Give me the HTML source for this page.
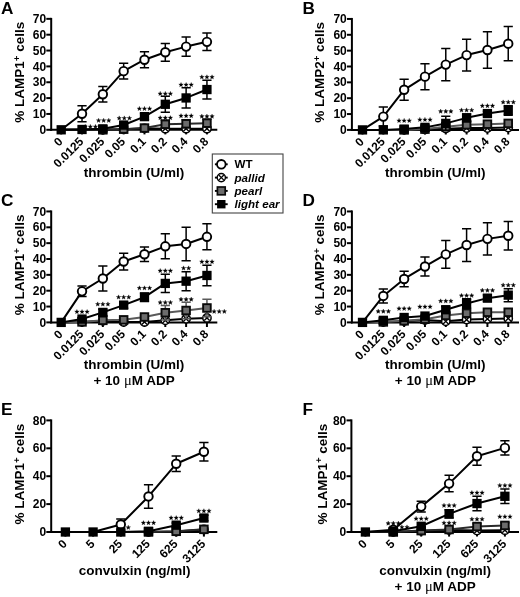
<!DOCTYPE html>
<html>
<head>
<meta charset="utf-8">
<title>Figure</title>
<style>
html,body{margin:0;padding:0;background:#fff;}
body{width:520px;height:597px;overflow:hidden;font-family:"Liberation Sans", sans-serif;}
svg{display:block;font-family:"Liberation Sans", sans-serif;filter:blur(0.4px);}
svg text{fill:#000;}
</style>
</head>
<body>
<svg width="520" height="597" viewBox="0 0 520 597">
<rect width="520" height="597" fill="#fff"/>
<g>
<path d="M51.2 17.85V130.8" stroke="#000" stroke-width="2.0"/>
<path d="M50.2 129.8H217.3" stroke="#000" stroke-width="2.0"/>
<path d="M46.3 129.8H51.2" stroke="#000" stroke-width="2.0"/>
<text x="46.1" y="133.9" font-size="12" font-weight="bold" text-anchor="end">0</text>
<path d="M46.3 113.95H51.2" stroke="#000" stroke-width="2.0"/>
<text x="46.1" y="118.05" font-size="12" font-weight="bold" text-anchor="end">10</text>
<path d="M46.3 98.1H51.2" stroke="#000" stroke-width="2.0"/>
<text x="46.1" y="102.2" font-size="12" font-weight="bold" text-anchor="end">20</text>
<path d="M46.3 82.25H51.2" stroke="#000" stroke-width="2.0"/>
<text x="46.1" y="86.35" font-size="12" font-weight="bold" text-anchor="end">30</text>
<path d="M46.3 66.4H51.2" stroke="#000" stroke-width="2.0"/>
<text x="46.1" y="70.5" font-size="12" font-weight="bold" text-anchor="end">40</text>
<path d="M46.3 50.55H51.2" stroke="#000" stroke-width="2.0"/>
<text x="46.1" y="54.65" font-size="12" font-weight="bold" text-anchor="end">50</text>
<path d="M46.3 34.7H51.2" stroke="#000" stroke-width="2.0"/>
<text x="46.1" y="38.8" font-size="12" font-weight="bold" text-anchor="end">60</text>
<path d="M46.3 18.85H51.2" stroke="#000" stroke-width="2.0"/>
<text x="46.1" y="22.95" font-size="12" font-weight="bold" text-anchor="end">70</text>
<path d="M61.2 129.8V134.4" stroke="#000" stroke-width="2.0"/>
<text transform="translate(63.5 142.3) rotate(-45)" font-size="12" font-weight="bold" text-anchor="end">0</text>
<path d="M82.02 129.8V134.4" stroke="#000" stroke-width="2.0"/>
<text transform="translate(84.32 142.3) rotate(-45)" font-size="12" font-weight="bold" text-anchor="end">0.0125</text>
<path d="M102.84 129.8V134.4" stroke="#000" stroke-width="2.0"/>
<text transform="translate(105.14 142.3) rotate(-45)" font-size="12" font-weight="bold" text-anchor="end">0.025</text>
<path d="M123.66 129.8V134.4" stroke="#000" stroke-width="2.0"/>
<text transform="translate(125.96 142.3) rotate(-45)" font-size="12" font-weight="bold" text-anchor="end">0.05</text>
<path d="M144.48 129.8V134.4" stroke="#000" stroke-width="2.0"/>
<text transform="translate(146.78 142.3) rotate(-45)" font-size="12" font-weight="bold" text-anchor="end">0.1</text>
<path d="M165.3 129.8V134.4" stroke="#000" stroke-width="2.0"/>
<text transform="translate(167.6 142.3) rotate(-45)" font-size="12" font-weight="bold" text-anchor="end">0.2</text>
<path d="M186.12 129.8V134.4" stroke="#000" stroke-width="2.0"/>
<text transform="translate(188.42 142.3) rotate(-45)" font-size="12" font-weight="bold" text-anchor="end">0.4</text>
<path d="M206.94 129.8V134.4" stroke="#000" stroke-width="2.0"/>
<text transform="translate(209.24 142.3) rotate(-45)" font-size="12" font-weight="bold" text-anchor="end">0.8</text>
<text transform="translate(24.2 72.23) rotate(-90)" font-size="13.5" font-weight="bold" text-anchor="middle">% LAMP1<tspan dy="-4.5" font-size="9.5">+</tspan><tspan dy="4.5"> cells</tspan></text>
<text x="134.07" y="176.5" font-size="13.5" font-weight="bold" text-anchor="middle">thrombin (U/ml)</text>
</g>
<g>
<text x="1" y="13.7" font-size="17.2" font-weight="bold">A</text>
<path d="M82.02 105.87V121.72M77.42 105.87H86.62M77.42 121.72H86.62" stroke="#000" stroke-width="1.5" fill="none"/>
<path d="M102.84 86.53V102.06M98.24 86.53H107.44M98.24 102.06H107.44" stroke="#000" stroke-width="1.5" fill="none"/>
<path d="M123.66 63.23V79.08M119.06 63.23H128.26M119.06 79.08H128.26" stroke="#000" stroke-width="1.5" fill="none"/>
<path d="M144.48 51.66V67.83M139.88 51.66H149.08M139.88 67.83H149.08" stroke="#000" stroke-width="1.5" fill="none"/>
<path d="M165.3 43.42V61.17M160.7 43.42H169.9M160.7 61.17H169.9" stroke="#000" stroke-width="1.5" fill="none"/>
<path d="M186.12 36.92V56.26M181.52 36.92H190.72M181.52 56.26H190.72" stroke="#000" stroke-width="1.5" fill="none"/>
<path d="M206.94 33.12V50.55M202.34 33.12H211.54M202.34 50.55H211.54" stroke="#000" stroke-width="1.5" fill="none"/>
<polyline points="61.2,129.8 82.02,113.79 102.84,94.3 123.66,71.16 144.48,59.74 165.3,52.29 186.12,46.59 206.94,41.83" fill="none" stroke="#000" stroke-width="2.0" stroke-linejoin="round"/>
<circle cx="82.02" cy="113.79" r="4.25" fill="#fff" stroke="#000" stroke-width="1.9"/>
<circle cx="102.84" cy="94.3" r="4.25" fill="#fff" stroke="#000" stroke-width="1.9"/>
<circle cx="123.66" cy="71.16" r="4.25" fill="#fff" stroke="#000" stroke-width="1.9"/>
<circle cx="144.48" cy="59.74" r="4.25" fill="#fff" stroke="#000" stroke-width="1.9"/>
<circle cx="165.3" cy="52.29" r="4.25" fill="#fff" stroke="#000" stroke-width="1.9"/>
<circle cx="186.12" cy="46.59" r="4.25" fill="#fff" stroke="#000" stroke-width="1.9"/>
<circle cx="206.94" cy="41.83" r="4.25" fill="#fff" stroke="#000" stroke-width="1.9"/>
<polyline points="61.2,129.8 82.02,129.8 102.84,129.8 123.66,129.17 144.48,128.37 165.3,128.69 186.12,128.69 206.94,128.69" fill="none" stroke="#000" stroke-width="2.0" stroke-linejoin="round"/>
<circle cx="102.84" cy="129.8" r="4.15" fill="#fff" stroke="#000" stroke-width="1.5"/>
<path d="M100.18 127.14L105.5 132.46M100.18 132.46L105.5 127.14" stroke="#000" stroke-width="1.4"/>
<circle cx="123.66" cy="129.17" r="4.15" fill="#fff" stroke="#000" stroke-width="1.5"/>
<path d="M121 126.51L126.32 131.82M121 131.82L126.32 126.51" stroke="#000" stroke-width="1.4"/>
<circle cx="144.48" cy="128.37" r="4.15" fill="#fff" stroke="#000" stroke-width="1.5"/>
<path d="M141.82 125.72L147.14 131.03M141.82 131.03L147.14 125.72" stroke="#000" stroke-width="1.4"/>
<circle cx="165.3" cy="128.69" r="4.15" fill="#fff" stroke="#000" stroke-width="1.5"/>
<path d="M162.64 126.03L167.96 131.35M162.64 131.35L167.96 126.03" stroke="#000" stroke-width="1.4"/>
<circle cx="186.12" cy="128.69" r="4.15" fill="#fff" stroke="#000" stroke-width="1.5"/>
<path d="M183.46 126.03L188.78 131.35M183.46 131.35L188.78 126.03" stroke="#000" stroke-width="1.4"/>
<circle cx="206.94" cy="128.69" r="4.15" fill="#fff" stroke="#000" stroke-width="1.5"/>
<path d="M204.28 126.03L209.6 131.35M204.28 131.35L209.6 126.03" stroke="#000" stroke-width="1.4"/>
<path d="M165.3 120.29V128.22M160.7 120.29H169.9M160.7 128.22H169.9" stroke="#2a2a2a" stroke-width="1.5" fill="none"/>
<path d="M186.12 119.81V127.74M181.52 119.81H190.72M181.52 127.74H190.72" stroke="#2a2a2a" stroke-width="1.5" fill="none"/>
<path d="M206.94 119.18V127.11M202.34 119.18H211.54M202.34 127.11H211.54" stroke="#2a2a2a" stroke-width="1.5" fill="none"/>
<polyline points="61.2,129.8 82.02,129.8 102.84,129.8 123.66,129.17 144.48,128.06 165.3,124.25 186.12,123.78 206.94,123.14" fill="none" stroke="#2a2a2a" stroke-width="2.0" stroke-linejoin="round"/>
<rect x="99.04" y="126" width="7.6" height="7.6" fill="#6c6c6c" stroke="#0a0a0a" stroke-width="1.9"/>
<rect x="119.86" y="125.37" width="7.6" height="7.6" fill="#6c6c6c" stroke="#0a0a0a" stroke-width="1.9"/>
<rect x="140.68" y="124.26" width="7.6" height="7.6" fill="#6c6c6c" stroke="#0a0a0a" stroke-width="1.9"/>
<rect x="161.5" y="120.45" width="7.6" height="7.6" fill="#6c6c6c" stroke="#0a0a0a" stroke-width="1.9"/>
<rect x="182.32" y="119.98" width="7.6" height="7.6" fill="#6c6c6c" stroke="#0a0a0a" stroke-width="1.9"/>
<rect x="203.14" y="119.34" width="7.6" height="7.6" fill="#6c6c6c" stroke="#0a0a0a" stroke-width="1.9"/>
<path d="M123.66 123.46V126.63M119.06 123.46H128.26M119.06 126.63H128.26" stroke="#000" stroke-width="1.5" fill="none"/>
<path d="M144.48 113.47V119.81M139.88 113.47H149.08M139.88 119.81H149.08" stroke="#000" stroke-width="1.5" fill="none"/>
<path d="M165.3 96.2V112.37M160.7 96.2H169.9M160.7 112.37H169.9" stroke="#000" stroke-width="1.5" fill="none"/>
<path d="M186.12 87.8V108.09M181.52 87.8H190.72M181.52 108.09H190.72" stroke="#000" stroke-width="1.5" fill="none"/>
<path d="M206.94 80.19V98.89M202.34 80.19H211.54M202.34 98.89H211.54" stroke="#000" stroke-width="1.5" fill="none"/>
<polyline points="61.2,129.8 82.02,129.48 102.84,128.85 123.66,125.05 144.48,116.64 165.3,104.28 186.12,97.94 206.94,89.54" fill="none" stroke="#000" stroke-width="2.0" stroke-linejoin="round"/>
<rect x="56.55" y="125.15" width="9.3" height="9.3" fill="#000"/>
<rect x="77.37" y="124.83" width="9.3" height="9.3" fill="#000"/>
<rect x="98.19" y="124.2" width="9.3" height="9.3" fill="#000"/>
<rect x="119.01" y="120.4" width="9.3" height="9.3" fill="#000"/>
<rect x="139.83" y="111.99" width="9.3" height="9.3" fill="#000"/>
<rect x="160.65" y="99.63" width="9.3" height="9.3" fill="#000"/>
<rect x="181.47" y="93.29" width="9.3" height="9.3" fill="#000"/>
<rect x="202.29" y="84.89" width="9.3" height="9.3" fill="#000"/>
<path d="M85.25 124.37L85.84 125.91L87.48 126L86.2 127.03L86.63 128.62L85.25 127.72L83.87 128.62L84.3 127.03L83.01 126L84.66 125.91ZM90.35 124.37L90.94 125.91L92.58 126L91.3 127.03L91.73 128.62L90.35 127.72L88.97 128.62L89.4 127.03L88.11 126L89.76 125.91ZM95.45 124.37L96.04 125.91L97.68 126L96.4 127.03L96.83 128.62L95.45 127.72L94.07 128.62L94.5 127.03L93.21 126L94.86 125.91Z" fill="#000" stroke="#000" stroke-width="0.3" stroke-linejoin="round"/>
<path d="M98.57 118.17L99.16 119.71L100.81 119.8L99.52 120.83L99.95 122.42L98.57 121.52L97.19 122.42L97.62 120.83L96.34 119.8L97.99 119.71ZM103.67 118.17L104.26 119.71L105.91 119.8L104.62 120.83L105.05 122.42L103.67 121.52L102.29 122.42L102.72 120.83L101.44 119.8L103.09 119.71ZM108.77 118.17L109.36 119.71L111.01 119.8L109.72 120.83L110.15 122.42L108.77 121.52L107.39 122.42L107.82 120.83L106.54 119.8L108.19 119.71Z" fill="#000" stroke="#000" stroke-width="0.3" stroke-linejoin="round"/>
<path d="M119.18 115.87L119.77 117.41L121.42 117.5L120.14 118.53L120.57 120.12L119.18 119.22L117.8 120.12L118.23 118.53L116.95 117.5L118.6 117.41ZM124.28 115.87L124.87 117.41L126.52 117.5L125.24 118.53L125.67 120.12L124.28 119.22L122.9 120.12L123.33 118.53L122.05 117.5L123.7 117.41ZM129.38 115.87L129.97 117.41L131.62 117.5L130.34 118.53L130.77 120.12L129.38 119.22L128 120.12L128.43 118.53L127.15 117.5L128.8 117.41Z" fill="#000" stroke="#000" stroke-width="0.3" stroke-linejoin="round"/>
<path d="M139.38 106.37L139.97 107.91L141.61 108L140.33 109.03L140.76 110.62L139.38 109.72L138 110.62L138.43 109.03L137.15 108L138.79 107.91ZM144.48 106.37L145.07 107.91L146.71 108L145.43 109.03L145.86 110.62L144.48 109.72L143.1 110.62L143.53 109.03L142.25 108L143.89 107.91ZM149.58 106.37L150.17 107.91L151.81 108L150.53 109.03L150.96 110.62L149.58 109.72L148.2 110.62L148.63 109.03L147.35 108L148.99 107.91Z" fill="#000" stroke="#000" stroke-width="0.3" stroke-linejoin="round"/>
<path d="M160.2 91.37L160.79 92.91L162.43 93L161.15 94.03L161.58 95.62L160.2 94.72L158.82 95.62L159.25 94.03L157.97 93L159.61 92.91ZM165.3 91.37L165.89 92.91L167.53 93L166.25 94.03L166.68 95.62L165.3 94.72L163.92 95.62L164.35 94.03L163.07 93L164.71 92.91ZM170.4 91.37L170.99 92.91L172.63 93L171.35 94.03L171.78 95.62L170.4 94.72L169.02 95.62L169.45 94.03L168.17 93L169.81 92.91Z" fill="#000" stroke="#000" stroke-width="0.3" stroke-linejoin="round"/>
<path d="M181.02 82.47L181.61 84.01L183.25 84.1L181.97 85.13L182.4 86.72L181.02 85.82L179.64 86.72L180.07 85.13L178.79 84.1L180.43 84.01ZM186.12 82.47L186.71 84.01L188.35 84.1L187.07 85.13L187.5 86.72L186.12 85.82L184.74 86.72L185.17 85.13L183.89 84.1L185.53 84.01ZM191.22 82.47L191.81 84.01L193.45 84.1L192.17 85.13L192.6 86.72L191.22 85.82L189.84 86.72L190.27 85.13L188.99 84.1L190.63 84.01Z" fill="#000" stroke="#000" stroke-width="0.3" stroke-linejoin="round"/>
<path d="M201.84 74.77L202.43 76.31L204.07 76.4L202.79 77.43L203.22 79.02L201.84 78.12L200.46 79.02L200.89 77.43L199.61 76.4L201.25 76.31ZM206.94 74.77L207.53 76.31L209.17 76.4L207.89 77.43L208.32 79.02L206.94 78.12L205.56 79.02L205.99 77.43L204.71 76.4L206.35 76.31ZM212.04 74.77L212.63 76.31L214.27 76.4L212.99 77.43L213.42 79.02L212.04 78.12L210.66 79.02L211.09 77.43L209.81 76.4L211.45 76.31Z" fill="#000" stroke="#000" stroke-width="0.3" stroke-linejoin="round"/>
<path d="M160.2 115.57L160.79 117.11L162.43 117.2L161.15 118.23L161.58 119.82L160.2 118.92L158.82 119.82L159.25 118.23L157.97 117.2L159.61 117.11ZM165.3 115.57L165.89 117.11L167.53 117.2L166.25 118.23L166.68 119.82L165.3 118.92L163.92 119.82L164.35 118.23L163.07 117.2L164.71 117.11ZM170.4 115.57L170.99 117.11L172.63 117.2L171.35 118.23L171.78 119.82L170.4 118.92L169.02 119.82L169.45 118.23L168.17 117.2L169.81 117.11Z" fill="#000" stroke="#000" stroke-width="0.3" stroke-linejoin="round"/>
<path d="M181.02 113.57L181.61 115.11L183.25 115.2L181.97 116.23L182.4 117.82L181.02 116.92L179.64 117.82L180.07 116.23L178.79 115.2L180.43 115.11ZM186.12 113.57L186.71 115.11L188.35 115.2L187.07 116.23L187.5 117.82L186.12 116.92L184.74 117.82L185.17 116.23L183.89 115.2L185.53 115.11ZM191.22 113.57L191.81 115.11L193.45 115.2L192.17 116.23L192.6 117.82L191.22 116.92L189.84 117.82L190.27 116.23L188.99 115.2L190.63 115.11Z" fill="#000" stroke="#000" stroke-width="0.3" stroke-linejoin="round"/>
<path d="M201.84 114.07L202.43 115.61L204.07 115.7L202.79 116.73L203.22 118.32L201.84 117.42L200.46 118.32L200.89 116.73L199.61 115.7L201.25 115.61ZM206.94 114.07L207.53 115.61L209.17 115.7L207.89 116.73L208.32 118.32L206.94 117.42L205.56 118.32L205.99 116.73L204.71 115.7L206.35 115.61ZM212.04 114.07L212.63 115.61L214.27 115.7L212.99 116.73L213.42 118.32L212.04 117.42L210.66 118.32L211.09 116.73L209.81 115.7L211.45 115.61Z" fill="#000" stroke="#000" stroke-width="0.3" stroke-linejoin="round"/>
</g>
<g>
<path d="M351.9 17.95V130.9" stroke="#000" stroke-width="2.0"/>
<path d="M350.9 129.9H519" stroke="#000" stroke-width="2.0"/>
<path d="M347 129.9H351.9" stroke="#000" stroke-width="2.0"/>
<text x="346.8" y="134" font-size="12" font-weight="bold" text-anchor="end">0</text>
<path d="M347 114.05H351.9" stroke="#000" stroke-width="2.0"/>
<text x="346.8" y="118.15" font-size="12" font-weight="bold" text-anchor="end">10</text>
<path d="M347 98.2H351.9" stroke="#000" stroke-width="2.0"/>
<text x="346.8" y="102.3" font-size="12" font-weight="bold" text-anchor="end">20</text>
<path d="M347 82.35H351.9" stroke="#000" stroke-width="2.0"/>
<text x="346.8" y="86.45" font-size="12" font-weight="bold" text-anchor="end">30</text>
<path d="M347 66.5H351.9" stroke="#000" stroke-width="2.0"/>
<text x="346.8" y="70.6" font-size="12" font-weight="bold" text-anchor="end">40</text>
<path d="M347 50.65H351.9" stroke="#000" stroke-width="2.0"/>
<text x="346.8" y="54.75" font-size="12" font-weight="bold" text-anchor="end">50</text>
<path d="M347 34.8H351.9" stroke="#000" stroke-width="2.0"/>
<text x="346.8" y="38.9" font-size="12" font-weight="bold" text-anchor="end">60</text>
<path d="M347 18.95H351.9" stroke="#000" stroke-width="2.0"/>
<text x="346.8" y="23.05" font-size="12" font-weight="bold" text-anchor="end">70</text>
<path d="M362.5 129.9V134.5" stroke="#000" stroke-width="2.0"/>
<text transform="translate(364.8 142.4) rotate(-45)" font-size="12" font-weight="bold" text-anchor="end">0</text>
<path d="M383.32 129.9V134.5" stroke="#000" stroke-width="2.0"/>
<text transform="translate(385.62 142.4) rotate(-45)" font-size="12" font-weight="bold" text-anchor="end">0.0125</text>
<path d="M404.14 129.9V134.5" stroke="#000" stroke-width="2.0"/>
<text transform="translate(406.44 142.4) rotate(-45)" font-size="12" font-weight="bold" text-anchor="end">0.025</text>
<path d="M424.96 129.9V134.5" stroke="#000" stroke-width="2.0"/>
<text transform="translate(427.26 142.4) rotate(-45)" font-size="12" font-weight="bold" text-anchor="end">0.05</text>
<path d="M445.78 129.9V134.5" stroke="#000" stroke-width="2.0"/>
<text transform="translate(448.08 142.4) rotate(-45)" font-size="12" font-weight="bold" text-anchor="end">0.1</text>
<path d="M466.6 129.9V134.5" stroke="#000" stroke-width="2.0"/>
<text transform="translate(468.9 142.4) rotate(-45)" font-size="12" font-weight="bold" text-anchor="end">0.2</text>
<path d="M487.42 129.9V134.5" stroke="#000" stroke-width="2.0"/>
<text transform="translate(489.72 142.4) rotate(-45)" font-size="12" font-weight="bold" text-anchor="end">0.4</text>
<path d="M508.24 129.9V134.5" stroke="#000" stroke-width="2.0"/>
<text transform="translate(510.54 142.4) rotate(-45)" font-size="12" font-weight="bold" text-anchor="end">0.8</text>
<text transform="translate(324.4 72.33) rotate(-90)" font-size="13.5" font-weight="bold" text-anchor="middle">% LAMP2<tspan dy="-4.5" font-size="9.5">+</tspan><tspan dy="4.5"> cells</tspan></text>
<text x="435.37" y="176.5" font-size="13.5" font-weight="bold" text-anchor="middle">thrombin (U/ml)</text>
</g>
<g>
<text x="302.5" y="13.7" font-size="17.2" font-weight="bold">B</text>
<path d="M383.32 107.08V126.1M378.72 107.08H387.92M378.72 126.1H387.92" stroke="#000" stroke-width="1.5" fill="none"/>
<path d="M404.14 79.34V100.26M399.54 79.34H408.74M399.54 100.26H408.74" stroke="#000" stroke-width="1.5" fill="none"/>
<path d="M424.96 63.65V89.64M420.36 63.65H429.56M420.36 89.64H429.56" stroke="#000" stroke-width="1.5" fill="none"/>
<path d="M445.78 48.43V80.77M441.18 48.43H450.38M441.18 80.77H450.38" stroke="#000" stroke-width="1.5" fill="none"/>
<path d="M466.6 39.24V70.94M462 39.24H471.2M462 70.94H471.2" stroke="#000" stroke-width="1.5" fill="none"/>
<path d="M487.42 31.79V68.24M482.82 31.79H492.02M482.82 68.24H492.02" stroke="#000" stroke-width="1.5" fill="none"/>
<path d="M508.24 26.56V60.79M503.64 26.56H512.84M503.64 60.79H512.84" stroke="#000" stroke-width="1.5" fill="none"/>
<polyline points="362.5,129.9 383.32,116.59 404.14,89.8 424.96,76.64 445.78,64.6 466.6,55.09 487.42,50.02 508.24,43.68" fill="none" stroke="#000" stroke-width="2.0" stroke-linejoin="round"/>
<circle cx="383.32" cy="116.59" r="4.25" fill="#fff" stroke="#000" stroke-width="1.9"/>
<circle cx="404.14" cy="89.8" r="4.25" fill="#fff" stroke="#000" stroke-width="1.9"/>
<circle cx="424.96" cy="76.64" r="4.25" fill="#fff" stroke="#000" stroke-width="1.9"/>
<circle cx="445.78" cy="64.6" r="4.25" fill="#fff" stroke="#000" stroke-width="1.9"/>
<circle cx="466.6" cy="55.09" r="4.25" fill="#fff" stroke="#000" stroke-width="1.9"/>
<circle cx="487.42" cy="50.02" r="4.25" fill="#fff" stroke="#000" stroke-width="1.9"/>
<circle cx="508.24" cy="43.68" r="4.25" fill="#fff" stroke="#000" stroke-width="1.9"/>
<polyline points="362.5,129.9 383.32,129.9 404.14,129.9 424.96,129.42 445.78,128.63 466.6,128 487.42,128 508.24,127.52" fill="none" stroke="#000" stroke-width="2.0" stroke-linejoin="round"/>
<circle cx="404.14" cy="129.9" r="4.15" fill="#fff" stroke="#000" stroke-width="1.5"/>
<path d="M401.48 127.24L406.8 132.56M401.48 132.56L406.8 127.24" stroke="#000" stroke-width="1.4"/>
<circle cx="424.96" cy="129.42" r="4.15" fill="#fff" stroke="#000" stroke-width="1.5"/>
<path d="M422.3 126.77L427.62 132.08M422.3 132.08L427.62 126.77" stroke="#000" stroke-width="1.4"/>
<circle cx="445.78" cy="128.63" r="4.15" fill="#fff" stroke="#000" stroke-width="1.5"/>
<path d="M443.12 125.98L448.44 131.29M443.12 131.29L448.44 125.98" stroke="#000" stroke-width="1.4"/>
<circle cx="466.6" cy="128" r="4.15" fill="#fff" stroke="#000" stroke-width="1.5"/>
<path d="M463.94 125.34L469.26 130.65M463.94 130.65L469.26 125.34" stroke="#000" stroke-width="1.4"/>
<circle cx="487.42" cy="128" r="4.15" fill="#fff" stroke="#000" stroke-width="1.5"/>
<path d="M484.76 125.34L490.08 130.65M484.76 130.65L490.08 125.34" stroke="#000" stroke-width="1.4"/>
<circle cx="508.24" cy="127.52" r="4.15" fill="#fff" stroke="#000" stroke-width="1.5"/>
<path d="M505.58 124.87L510.9 130.18M505.58 130.18L510.9 124.87" stroke="#000" stroke-width="1.4"/>
<polyline points="362.5,129.9 383.32,129.9 404.14,129.9 424.96,129.11 445.78,126.73 466.6,124.83 487.42,124.19 508.24,123.4" fill="none" stroke="#5a5a5a" stroke-width="2.0" stroke-linejoin="round"/>
<rect x="400.34" y="126.1" width="7.6" height="7.6" fill="#6c6c6c" stroke="#0a0a0a" stroke-width="1.9"/>
<rect x="421.16" y="125.31" width="7.6" height="7.6" fill="#6c6c6c" stroke="#0a0a0a" stroke-width="1.9"/>
<rect x="441.98" y="122.93" width="7.6" height="7.6" fill="#6c6c6c" stroke="#0a0a0a" stroke-width="1.9"/>
<rect x="462.8" y="121.03" width="7.6" height="7.6" fill="#6c6c6c" stroke="#0a0a0a" stroke-width="1.9"/>
<rect x="483.62" y="120.39" width="7.6" height="7.6" fill="#6c6c6c" stroke="#0a0a0a" stroke-width="1.9"/>
<rect x="504.44" y="119.6" width="7.6" height="7.6" fill="#6c6c6c" stroke="#0a0a0a" stroke-width="1.9"/>
<path d="M445.78 116.27V130.53M441.18 116.27H450.38M441.18 130.53H450.38" stroke="#000" stroke-width="1.5" fill="none"/>
<path d="M466.6 113.89V121.82M462 113.89H471.2M462 121.82H471.2" stroke="#000" stroke-width="1.5" fill="none"/>
<path d="M487.42 111.2V115.95M482.82 111.2H492.02M482.82 115.95H492.02" stroke="#000" stroke-width="1.5" fill="none"/>
<path d="M508.24 105.65V115.16M503.64 105.65H512.84M503.64 115.16H512.84" stroke="#000" stroke-width="1.5" fill="none"/>
<polyline points="362.5,129.9 383.32,129.9 404.14,129.11 424.96,127.36 445.78,123.4 466.6,117.85 487.42,113.57 508.24,110.4" fill="none" stroke="#000" stroke-width="2.0" stroke-linejoin="round"/>
<rect x="357.85" y="125.25" width="9.3" height="9.3" fill="#000"/>
<rect x="378.67" y="125.25" width="9.3" height="9.3" fill="#000"/>
<rect x="399.49" y="124.46" width="9.3" height="9.3" fill="#000"/>
<rect x="420.31" y="122.71" width="9.3" height="9.3" fill="#000"/>
<rect x="441.13" y="118.75" width="9.3" height="9.3" fill="#000"/>
<rect x="461.95" y="113.2" width="9.3" height="9.3" fill="#000"/>
<rect x="482.77" y="108.92" width="9.3" height="9.3" fill="#000"/>
<rect x="503.59" y="105.75" width="9.3" height="9.3" fill="#000"/>
<path d="M399.04 118.37L399.63 119.91L401.27 120L399.99 121.03L400.42 122.62L399.04 121.72L397.66 122.62L398.09 121.03L396.81 120L398.45 119.91ZM404.14 118.37L404.73 119.91L406.37 120L405.09 121.03L405.52 122.62L404.14 121.72L402.76 122.62L403.19 121.03L401.91 120L403.55 119.91ZM409.24 118.37L409.83 119.91L411.47 120L410.19 121.03L410.62 122.62L409.24 121.72L407.86 122.62L408.29 121.03L407.01 120L408.65 119.91Z" fill="#000" stroke="#000" stroke-width="0.3" stroke-linejoin="round"/>
<path d="M419.86 117.37L420.45 118.91L422.09 119L420.81 120.03L421.24 121.62L419.86 120.72L418.48 121.62L418.91 120.03L417.63 119L419.27 118.91ZM424.96 117.37L425.55 118.91L427.19 119L425.91 120.03L426.34 121.62L424.96 120.72L423.58 121.62L424.01 120.03L422.73 119L424.37 118.91ZM430.06 117.37L430.65 118.91L432.29 119L431.01 120.03L431.44 121.62L430.06 120.72L428.68 121.62L429.11 120.03L427.83 119L429.47 118.91Z" fill="#000" stroke="#000" stroke-width="0.3" stroke-linejoin="round"/>
<path d="M440.68 109.07L441.27 110.61L442.91 110.7L441.63 111.73L442.06 113.32L440.68 112.42L439.3 113.32L439.73 111.73L438.45 110.7L440.09 110.61ZM445.78 109.07L446.37 110.61L448.01 110.7L446.73 111.73L447.16 113.32L445.78 112.42L444.4 113.32L444.83 111.73L443.55 110.7L445.19 110.61ZM450.88 109.07L451.47 110.61L453.11 110.7L451.83 111.73L452.26 113.32L450.88 112.42L449.5 113.32L449.93 111.73L448.65 110.7L450.29 110.61Z" fill="#000" stroke="#000" stroke-width="0.3" stroke-linejoin="round"/>
<path d="M461.5 107.87L462.09 109.41L463.73 109.5L462.45 110.53L462.88 112.12L461.5 111.22L460.12 112.12L460.55 110.53L459.27 109.5L460.91 109.41ZM466.6 107.87L467.19 109.41L468.83 109.5L467.55 110.53L467.98 112.12L466.6 111.22L465.22 112.12L465.65 110.53L464.37 109.5L466.01 109.41ZM471.7 107.87L472.29 109.41L473.93 109.5L472.65 110.53L473.08 112.12L471.7 111.22L470.32 112.12L470.75 110.53L469.47 109.5L471.11 109.41Z" fill="#000" stroke="#000" stroke-width="0.3" stroke-linejoin="round"/>
<path d="M482.32 103.57L482.91 105.11L484.55 105.2L483.27 106.23L483.7 107.82L482.32 106.92L480.94 107.82L481.37 106.23L480.09 105.2L481.73 105.11ZM487.42 103.57L488.01 105.11L489.65 105.2L488.37 106.23L488.8 107.82L487.42 106.92L486.04 107.82L486.47 106.23L485.19 105.2L486.83 105.11ZM492.52 103.57L493.11 105.11L494.75 105.2L493.47 106.23L493.9 107.82L492.52 106.92L491.14 107.82L491.57 106.23L490.29 105.2L491.93 105.11Z" fill="#000" stroke="#000" stroke-width="0.3" stroke-linejoin="round"/>
<path d="M503.14 99.87L503.73 101.41L505.37 101.5L504.09 102.53L504.52 104.12L503.14 103.22L501.76 104.12L502.19 102.53L500.91 101.5L502.55 101.41ZM508.24 99.87L508.83 101.41L510.47 101.5L509.19 102.53L509.62 104.12L508.24 103.22L506.86 104.12L507.29 102.53L506.01 101.5L507.65 101.41ZM513.34 99.87L513.93 101.41L515.57 101.5L514.29 102.53L514.72 104.12L513.34 103.22L511.96 104.12L512.39 102.53L511.11 101.5L512.75 101.41Z" fill="#000" stroke="#000" stroke-width="0.3" stroke-linejoin="round"/>
</g>
<g>
<path d="M51.2 210.45V323.4" stroke="#000" stroke-width="2.0"/>
<path d="M50.2 322.4H217.3" stroke="#000" stroke-width="2.0"/>
<path d="M46.3 322.4H51.2" stroke="#000" stroke-width="2.0"/>
<text x="46.1" y="326.5" font-size="12" font-weight="bold" text-anchor="end">0</text>
<path d="M46.3 306.55H51.2" stroke="#000" stroke-width="2.0"/>
<text x="46.1" y="310.65" font-size="12" font-weight="bold" text-anchor="end">10</text>
<path d="M46.3 290.7H51.2" stroke="#000" stroke-width="2.0"/>
<text x="46.1" y="294.8" font-size="12" font-weight="bold" text-anchor="end">20</text>
<path d="M46.3 274.85H51.2" stroke="#000" stroke-width="2.0"/>
<text x="46.1" y="278.95" font-size="12" font-weight="bold" text-anchor="end">30</text>
<path d="M46.3 259H51.2" stroke="#000" stroke-width="2.0"/>
<text x="46.1" y="263.1" font-size="12" font-weight="bold" text-anchor="end">40</text>
<path d="M46.3 243.15H51.2" stroke="#000" stroke-width="2.0"/>
<text x="46.1" y="247.25" font-size="12" font-weight="bold" text-anchor="end">50</text>
<path d="M46.3 227.3H51.2" stroke="#000" stroke-width="2.0"/>
<text x="46.1" y="231.4" font-size="12" font-weight="bold" text-anchor="end">60</text>
<path d="M46.3 211.45H51.2" stroke="#000" stroke-width="2.0"/>
<text x="46.1" y="215.55" font-size="12" font-weight="bold" text-anchor="end">70</text>
<path d="M61.2 322.4V327" stroke="#000" stroke-width="2.0"/>
<text transform="translate(63.5 334.9) rotate(-45)" font-size="12" font-weight="bold" text-anchor="end">0</text>
<path d="M82.02 322.4V327" stroke="#000" stroke-width="2.0"/>
<text transform="translate(84.32 334.9) rotate(-45)" font-size="12" font-weight="bold" text-anchor="end">0.0125</text>
<path d="M102.84 322.4V327" stroke="#000" stroke-width="2.0"/>
<text transform="translate(105.14 334.9) rotate(-45)" font-size="12" font-weight="bold" text-anchor="end">0.025</text>
<path d="M123.66 322.4V327" stroke="#000" stroke-width="2.0"/>
<text transform="translate(125.96 334.9) rotate(-45)" font-size="12" font-weight="bold" text-anchor="end">0.05</text>
<path d="M144.48 322.4V327" stroke="#000" stroke-width="2.0"/>
<text transform="translate(146.78 334.9) rotate(-45)" font-size="12" font-weight="bold" text-anchor="end">0.1</text>
<path d="M165.3 322.4V327" stroke="#000" stroke-width="2.0"/>
<text transform="translate(167.6 334.9) rotate(-45)" font-size="12" font-weight="bold" text-anchor="end">0.2</text>
<path d="M186.12 322.4V327" stroke="#000" stroke-width="2.0"/>
<text transform="translate(188.42 334.9) rotate(-45)" font-size="12" font-weight="bold" text-anchor="end">0.4</text>
<path d="M206.94 322.4V327" stroke="#000" stroke-width="2.0"/>
<text transform="translate(209.24 334.9) rotate(-45)" font-size="12" font-weight="bold" text-anchor="end">0.8</text>
<text transform="translate(24.2 264.82) rotate(-90)" font-size="13.5" font-weight="bold" text-anchor="middle">% LAMP1<tspan dy="-4.5" font-size="9.5">+</tspan><tspan dy="4.5"> cells</tspan></text>
<text x="134.07" y="369.3" font-size="13.5" font-weight="bold" text-anchor="middle">thrombin (U/ml)</text>
<text x="134.07" y="384.9" font-size="13.5" font-weight="bold" text-anchor="middle">+ 10 <tspan font-family="Liberation Serif" font-weight="normal" font-size="14.5">μ</tspan>M ADP</text>
</g>
<g>
<text x="1" y="205.6" font-size="17.2" font-weight="bold">C</text>
<path d="M82.02 286.1V296.56M77.42 286.1H86.62M77.42 296.56H86.62" stroke="#000" stroke-width="1.5" fill="none"/>
<path d="M102.84 265.97V291.02M98.24 265.97H107.44M98.24 291.02H107.44" stroke="#000" stroke-width="1.5" fill="none"/>
<path d="M123.66 253.14V269.94M119.06 253.14H128.26M119.06 269.94H128.26" stroke="#000" stroke-width="1.5" fill="none"/>
<path d="M144.48 246.95V261.54M139.88 246.95H149.08M139.88 261.54H149.08" stroke="#000" stroke-width="1.5" fill="none"/>
<path d="M165.3 233.8V258.84M160.7 233.8H169.9M160.7 258.84H169.9" stroke="#000" stroke-width="1.5" fill="none"/>
<path d="M186.12 227.14V260.74M181.52 227.14H190.72M181.52 260.74H190.72" stroke="#000" stroke-width="1.5" fill="none"/>
<path d="M206.94 223.81V249.81M202.34 223.81H211.54M202.34 249.81H211.54" stroke="#000" stroke-width="1.5" fill="none"/>
<polyline points="61.2,322.4 82.02,291.33 102.84,278.5 123.66,261.54 144.48,254.24 165.3,246.32 186.12,243.94 206.94,236.81" fill="none" stroke="#000" stroke-width="2.0" stroke-linejoin="round"/>
<circle cx="82.02" cy="291.33" r="4.25" fill="#fff" stroke="#000" stroke-width="1.9"/>
<circle cx="102.84" cy="278.5" r="4.25" fill="#fff" stroke="#000" stroke-width="1.9"/>
<circle cx="123.66" cy="261.54" r="4.25" fill="#fff" stroke="#000" stroke-width="1.9"/>
<circle cx="144.48" cy="254.24" r="4.25" fill="#fff" stroke="#000" stroke-width="1.9"/>
<circle cx="165.3" cy="246.32" r="4.25" fill="#fff" stroke="#000" stroke-width="1.9"/>
<circle cx="186.12" cy="243.94" r="4.25" fill="#fff" stroke="#000" stroke-width="1.9"/>
<circle cx="206.94" cy="236.81" r="4.25" fill="#fff" stroke="#000" stroke-width="1.9"/>
<polyline points="61.2,322.4 82.02,321.92 102.84,320.81 123.66,321.92 144.48,321.92 165.3,320.34 186.12,318.75 206.94,317.96" fill="none" stroke="#000" stroke-width="2.0" stroke-linejoin="round"/>
<circle cx="82.02" cy="321.92" r="4.15" fill="#fff" stroke="#000" stroke-width="1.5"/>
<path d="M79.36 319.27L84.68 324.58M79.36 324.58L84.68 319.27" stroke="#000" stroke-width="1.4"/>
<circle cx="102.84" cy="320.81" r="4.15" fill="#fff" stroke="#000" stroke-width="1.5"/>
<path d="M100.18 318.16L105.5 323.47M100.18 323.47L105.5 318.16" stroke="#000" stroke-width="1.4"/>
<circle cx="123.66" cy="321.92" r="4.15" fill="#fff" stroke="#000" stroke-width="1.5"/>
<path d="M121 319.27L126.32 324.58M121 324.58L126.32 319.27" stroke="#000" stroke-width="1.4"/>
<circle cx="144.48" cy="321.92" r="4.15" fill="#fff" stroke="#000" stroke-width="1.5"/>
<path d="M141.82 319.27L147.14 324.58M141.82 324.58L147.14 319.27" stroke="#000" stroke-width="1.4"/>
<circle cx="165.3" cy="320.34" r="4.15" fill="#fff" stroke="#000" stroke-width="1.5"/>
<path d="M162.64 317.68L167.96 323M162.64 323L167.96 317.68" stroke="#000" stroke-width="1.4"/>
<circle cx="186.12" cy="318.75" r="4.15" fill="#fff" stroke="#000" stroke-width="1.5"/>
<path d="M183.46 316.1L188.78 321.41M183.46 321.41L188.78 316.1" stroke="#000" stroke-width="1.4"/>
<circle cx="206.94" cy="317.96" r="4.15" fill="#fff" stroke="#000" stroke-width="1.5"/>
<path d="M204.28 315.31L209.6 320.62M204.28 320.62L209.6 315.31" stroke="#000" stroke-width="1.4"/>
<path d="M144.48 315.43V318.6M139.88 315.43H149.08M139.88 318.6H149.08" stroke="#5a5a5a" stroke-width="1.5" fill="none"/>
<path d="M165.3 305.44V320.02M160.7 305.44H169.9M160.7 320.02H169.9" stroke="#5a5a5a" stroke-width="1.5" fill="none"/>
<path d="M186.12 302.27V318.75M181.52 302.27H190.72M181.52 318.75H190.72" stroke="#5a5a5a" stroke-width="1.5" fill="none"/>
<path d="M206.94 299.26V316.69M202.34 299.26H211.54M202.34 316.69H211.54" stroke="#5a5a5a" stroke-width="1.5" fill="none"/>
<polyline points="61.2,322.4 82.02,321.92 102.84,320.34 123.66,319.86 144.48,317.01 165.3,312.73 186.12,310.51 206.94,307.98" fill="none" stroke="#5a5a5a" stroke-width="2.0" stroke-linejoin="round"/>
<rect x="78.22" y="318.12" width="7.6" height="7.6" fill="#6c6c6c" stroke="#0a0a0a" stroke-width="1.9"/>
<rect x="99.04" y="316.54" width="7.6" height="7.6" fill="#6c6c6c" stroke="#0a0a0a" stroke-width="1.9"/>
<rect x="119.86" y="316.06" width="7.6" height="7.6" fill="#6c6c6c" stroke="#0a0a0a" stroke-width="1.9"/>
<rect x="140.68" y="313.21" width="7.6" height="7.6" fill="#6c6c6c" stroke="#0a0a0a" stroke-width="1.9"/>
<rect x="161.5" y="308.93" width="7.6" height="7.6" fill="#6c6c6c" stroke="#0a0a0a" stroke-width="1.9"/>
<rect x="182.32" y="306.71" width="7.6" height="7.6" fill="#6c6c6c" stroke="#0a0a0a" stroke-width="1.9"/>
<rect x="203.14" y="304.18" width="7.6" height="7.6" fill="#6c6c6c" stroke="#0a0a0a" stroke-width="1.9"/>
<path d="M82.02 317.49V320.66M77.42 317.49H86.62M77.42 320.66H86.62" stroke="#000" stroke-width="1.5" fill="none"/>
<path d="M102.84 309.24V315.58M98.24 309.24H107.44M98.24 315.58H107.44" stroke="#000" stroke-width="1.5" fill="none"/>
<path d="M123.66 301.95V308.29M119.06 301.95H128.26M119.06 308.29H128.26" stroke="#000" stroke-width="1.5" fill="none"/>
<path d="M144.48 292.92V301.48M139.88 292.92H149.08M139.88 301.48H149.08" stroke="#000" stroke-width="1.5" fill="none"/>
<path d="M165.3 274.22V292.6M160.7 274.22H169.9M160.7 292.6H169.9" stroke="#000" stroke-width="1.5" fill="none"/>
<path d="M186.12 271.68V290.7M181.52 271.68H190.72M181.52 290.7H190.72" stroke="#000" stroke-width="1.5" fill="none"/>
<path d="M206.94 265.18V285.79M202.34 265.18H211.54M202.34 285.79H211.54" stroke="#000" stroke-width="1.5" fill="none"/>
<polyline points="61.2,322.4 82.02,319.07 102.84,312.41 123.66,305.12 144.48,297.2 165.3,283.41 186.12,281.19 206.94,275.48" fill="none" stroke="#000" stroke-width="2.0" stroke-linejoin="round"/>
<rect x="56.55" y="317.75" width="9.3" height="9.3" fill="#000"/>
<rect x="77.37" y="314.42" width="9.3" height="9.3" fill="#000"/>
<rect x="98.19" y="307.76" width="9.3" height="9.3" fill="#000"/>
<rect x="119.01" y="300.47" width="9.3" height="9.3" fill="#000"/>
<rect x="139.83" y="292.55" width="9.3" height="9.3" fill="#000"/>
<rect x="160.65" y="278.76" width="9.3" height="9.3" fill="#000"/>
<rect x="181.47" y="276.54" width="9.3" height="9.3" fill="#000"/>
<rect x="202.29" y="270.83" width="9.3" height="9.3" fill="#000"/>
<path d="M76.92 309.47L77.51 311.01L79.15 311.1L77.87 312.13L78.3 313.72L76.92 312.82L75.54 313.72L75.97 312.13L74.69 311.1L76.33 311.01ZM82.02 309.47L82.61 311.01L84.25 311.1L82.97 312.13L83.4 313.72L82.02 312.82L80.64 313.72L81.07 312.13L79.79 311.1L81.43 311.01ZM87.12 309.47L87.71 311.01L89.35 311.1L88.07 312.13L88.5 313.72L87.12 312.82L85.74 313.72L86.17 312.13L84.89 311.1L86.53 311.01Z" fill="#000" stroke="#000" stroke-width="0.3" stroke-linejoin="round"/>
<path d="M97.74 301.87L98.33 303.41L99.97 303.5L98.69 304.53L99.12 306.12L97.74 305.22L96.36 306.12L96.79 304.53L95.51 303.5L97.15 303.41ZM102.84 301.87L103.43 303.41L105.07 303.5L103.79 304.53L104.22 306.12L102.84 305.22L101.46 306.12L101.89 304.53L100.61 303.5L102.25 303.41ZM107.94 301.87L108.53 303.41L110.17 303.5L108.89 304.53L109.32 306.12L107.94 305.22L106.56 306.12L106.99 304.53L105.71 303.5L107.35 303.41Z" fill="#000" stroke="#000" stroke-width="0.3" stroke-linejoin="round"/>
<path d="M118.56 294.87L119.15 296.41L120.79 296.5L119.51 297.53L119.94 299.12L118.56 298.22L117.18 299.12L117.61 297.53L116.33 296.5L117.97 296.41ZM123.66 294.87L124.25 296.41L125.89 296.5L124.61 297.53L125.04 299.12L123.66 298.22L122.28 299.12L122.71 297.53L121.43 296.5L123.07 296.41ZM128.76 294.87L129.35 296.41L130.99 296.5L129.71 297.53L130.14 299.12L128.76 298.22L127.38 299.12L127.81 297.53L126.53 296.5L128.17 296.41Z" fill="#000" stroke="#000" stroke-width="0.3" stroke-linejoin="round"/>
<path d="M139.38 285.77L139.97 287.31L141.61 287.4L140.33 288.43L140.76 290.02L139.38 289.12L138 290.02L138.43 288.43L137.15 287.4L138.79 287.31ZM144.48 285.77L145.07 287.31L146.71 287.4L145.43 288.43L145.86 290.02L144.48 289.12L143.1 290.02L143.53 288.43L142.25 287.4L143.89 287.31ZM149.58 285.77L150.17 287.31L151.81 287.4L150.53 288.43L150.96 290.02L149.58 289.12L148.2 290.02L148.63 288.43L147.35 287.4L148.99 287.31Z" fill="#000" stroke="#000" stroke-width="0.3" stroke-linejoin="round"/>
<path d="M160.2 268.47L160.79 270.01L162.43 270.1L161.15 271.13L161.58 272.72L160.2 271.82L158.82 272.72L159.25 271.13L157.97 270.1L159.61 270.01ZM165.3 268.47L165.89 270.01L167.53 270.1L166.25 271.13L166.68 272.72L165.3 271.82L163.92 272.72L164.35 271.13L163.07 270.1L164.71 270.01ZM170.4 268.47L170.99 270.01L172.63 270.1L171.35 271.13L171.78 272.72L170.4 271.82L169.02 272.72L169.45 271.13L168.17 270.1L169.81 270.01Z" fill="#000" stroke="#000" stroke-width="0.3" stroke-linejoin="round"/>
<path d="M183.57 265.87L184.16 267.41L185.8 267.5L184.52 268.53L184.95 270.12L183.57 269.22L182.19 270.12L182.62 268.53L181.34 267.5L182.98 267.41ZM188.67 265.87L189.26 267.41L190.9 267.5L189.62 268.53L190.05 270.12L188.67 269.22L187.29 270.12L187.72 268.53L186.44 267.5L188.08 267.41Z" fill="#000" stroke="#000" stroke-width="0.3" stroke-linejoin="round"/>
<path d="M201.84 259.47L202.43 261.01L204.07 261.1L202.79 262.13L203.22 263.72L201.84 262.82L200.46 263.72L200.89 262.13L199.61 261.1L201.25 261.01ZM206.94 259.47L207.53 261.01L209.17 261.1L207.89 262.13L208.32 263.72L206.94 262.82L205.56 263.72L205.99 262.13L204.71 261.1L206.35 261.01ZM212.04 259.47L212.63 261.01L214.27 261.1L212.99 262.13L213.42 263.72L212.04 262.82L210.66 263.72L211.09 262.13L209.81 261.1L211.45 261.01Z" fill="#000" stroke="#000" stroke-width="0.3" stroke-linejoin="round"/>
<path d="M160.2 300.17L160.79 301.71L162.43 301.8L161.15 302.83L161.58 304.42L160.2 303.52L158.82 304.42L159.25 302.83L157.97 301.8L159.61 301.71ZM165.3 300.17L165.89 301.71L167.53 301.8L166.25 302.83L166.68 304.42L165.3 303.52L163.92 304.42L164.35 302.83L163.07 301.8L164.71 301.71ZM170.4 300.17L170.99 301.71L172.63 301.8L171.35 302.83L171.78 304.42L170.4 303.52L169.02 304.42L169.45 302.83L168.17 301.8L169.81 301.71Z" fill="#000" stroke="#000" stroke-width="0.3" stroke-linejoin="round"/>
<path d="M181.02 297.07L181.61 298.61L183.25 298.7L181.97 299.73L182.4 301.32L181.02 300.42L179.64 301.32L180.07 299.73L178.79 298.7L180.43 298.61ZM186.12 297.07L186.71 298.61L188.35 298.7L187.07 299.73L187.5 301.32L186.12 300.42L184.74 301.32L185.17 299.73L183.89 298.7L185.53 298.61ZM191.22 297.07L191.81 298.61L193.45 298.7L192.17 299.73L192.6 301.32L191.22 300.42L189.84 301.32L190.27 299.73L188.99 298.7L190.63 298.61Z" fill="#000" stroke="#000" stroke-width="0.3" stroke-linejoin="round"/>
<path d="M214.12 309.17L214.71 310.71L216.36 310.8L215.07 311.83L215.51 313.42L214.12 312.52L212.74 313.42L213.17 311.83L211.89 310.8L213.54 310.71ZM219.22 309.17L219.81 310.71L221.46 310.8L220.17 311.83L220.61 313.42L219.22 312.52L217.84 313.42L218.27 311.83L216.99 310.8L218.64 310.71ZM224.32 309.17L224.91 310.71L226.56 310.8L225.27 311.83L225.71 313.42L224.32 312.52L222.94 313.42L223.37 311.83L222.09 310.8L223.74 310.71Z" fill="#000" stroke="#000" stroke-width="0.3" stroke-linejoin="round"/>
</g>
<g>
<path d="M351.9 210.45V323.4" stroke="#000" stroke-width="2.0"/>
<path d="M350.9 322.4H519" stroke="#000" stroke-width="2.0"/>
<path d="M347 322.4H351.9" stroke="#000" stroke-width="2.0"/>
<text x="346.8" y="326.5" font-size="12" font-weight="bold" text-anchor="end">0</text>
<path d="M347 306.55H351.9" stroke="#000" stroke-width="2.0"/>
<text x="346.8" y="310.65" font-size="12" font-weight="bold" text-anchor="end">10</text>
<path d="M347 290.7H351.9" stroke="#000" stroke-width="2.0"/>
<text x="346.8" y="294.8" font-size="12" font-weight="bold" text-anchor="end">20</text>
<path d="M347 274.85H351.9" stroke="#000" stroke-width="2.0"/>
<text x="346.8" y="278.95" font-size="12" font-weight="bold" text-anchor="end">30</text>
<path d="M347 259H351.9" stroke="#000" stroke-width="2.0"/>
<text x="346.8" y="263.1" font-size="12" font-weight="bold" text-anchor="end">40</text>
<path d="M347 243.15H351.9" stroke="#000" stroke-width="2.0"/>
<text x="346.8" y="247.25" font-size="12" font-weight="bold" text-anchor="end">50</text>
<path d="M347 227.3H351.9" stroke="#000" stroke-width="2.0"/>
<text x="346.8" y="231.4" font-size="12" font-weight="bold" text-anchor="end">60</text>
<path d="M347 211.45H351.9" stroke="#000" stroke-width="2.0"/>
<text x="346.8" y="215.55" font-size="12" font-weight="bold" text-anchor="end">70</text>
<path d="M362.5 322.4V327" stroke="#000" stroke-width="2.0"/>
<text transform="translate(364.8 334.9) rotate(-45)" font-size="12" font-weight="bold" text-anchor="end">0</text>
<path d="M383.32 322.4V327" stroke="#000" stroke-width="2.0"/>
<text transform="translate(385.62 334.9) rotate(-45)" font-size="12" font-weight="bold" text-anchor="end">0.0125</text>
<path d="M404.14 322.4V327" stroke="#000" stroke-width="2.0"/>
<text transform="translate(406.44 334.9) rotate(-45)" font-size="12" font-weight="bold" text-anchor="end">0.025</text>
<path d="M424.96 322.4V327" stroke="#000" stroke-width="2.0"/>
<text transform="translate(427.26 334.9) rotate(-45)" font-size="12" font-weight="bold" text-anchor="end">0.05</text>
<path d="M445.78 322.4V327" stroke="#000" stroke-width="2.0"/>
<text transform="translate(448.08 334.9) rotate(-45)" font-size="12" font-weight="bold" text-anchor="end">0.1</text>
<path d="M466.6 322.4V327" stroke="#000" stroke-width="2.0"/>
<text transform="translate(468.9 334.9) rotate(-45)" font-size="12" font-weight="bold" text-anchor="end">0.2</text>
<path d="M487.42 322.4V327" stroke="#000" stroke-width="2.0"/>
<text transform="translate(489.72 334.9) rotate(-45)" font-size="12" font-weight="bold" text-anchor="end">0.4</text>
<path d="M508.24 322.4V327" stroke="#000" stroke-width="2.0"/>
<text transform="translate(510.54 334.9) rotate(-45)" font-size="12" font-weight="bold" text-anchor="end">0.8</text>
<text transform="translate(324.4 264.82) rotate(-90)" font-size="13.5" font-weight="bold" text-anchor="middle">% LAMP2<tspan dy="-4.5" font-size="9.5">+</tspan><tspan dy="4.5"> cells</tspan></text>
<text x="435.37" y="369.3" font-size="13.5" font-weight="bold" text-anchor="middle">thrombin (U/ml)</text>
<text x="435.37" y="384.9" font-size="13.5" font-weight="bold" text-anchor="middle">+ 10 <tspan font-family="Liberation Serif" font-weight="normal" font-size="14.5">μ</tspan>M ADP</text>
</g>
<g>
<text x="302.5" y="205.6" font-size="17.2" font-weight="bold">D</text>
<path d="M383.32 288.96V302.9M378.72 288.96H387.92M378.72 302.9H387.92" stroke="#000" stroke-width="1.5" fill="none"/>
<path d="M404.14 271.2V286.74M399.54 271.2H408.74M399.54 286.74H408.74" stroke="#000" stroke-width="1.5" fill="none"/>
<path d="M424.96 256.94V275.96M420.36 256.94H429.56M420.36 275.96H429.56" stroke="#000" stroke-width="1.5" fill="none"/>
<path d="M445.78 240.46V268.35M441.18 240.46H450.38M441.18 268.35H450.38" stroke="#000" stroke-width="1.5" fill="none"/>
<path d="M466.6 228.73V261.38M462 228.73H471.2M462 261.38H471.2" stroke="#000" stroke-width="1.5" fill="none"/>
<path d="M487.42 222.7V255.04M482.82 222.7H492.02M482.82 255.04H492.02" stroke="#000" stroke-width="1.5" fill="none"/>
<path d="M508.24 221.44V249.97M503.64 221.44H512.84M503.64 249.97H512.84" stroke="#000" stroke-width="1.5" fill="none"/>
<polyline points="362.5,322.4 383.32,295.93 404.14,278.97 424.96,266.45 445.78,254.4 466.6,245.05 487.42,238.87 508.24,235.7" fill="none" stroke="#000" stroke-width="2.0" stroke-linejoin="round"/>
<circle cx="383.32" cy="295.93" r="4.25" fill="#fff" stroke="#000" stroke-width="1.9"/>
<circle cx="404.14" cy="278.97" r="4.25" fill="#fff" stroke="#000" stroke-width="1.9"/>
<circle cx="424.96" cy="266.45" r="4.25" fill="#fff" stroke="#000" stroke-width="1.9"/>
<circle cx="445.78" cy="254.4" r="4.25" fill="#fff" stroke="#000" stroke-width="1.9"/>
<circle cx="466.6" cy="245.05" r="4.25" fill="#fff" stroke="#000" stroke-width="1.9"/>
<circle cx="487.42" cy="238.87" r="4.25" fill="#fff" stroke="#000" stroke-width="1.9"/>
<circle cx="508.24" cy="235.7" r="4.25" fill="#fff" stroke="#000" stroke-width="1.9"/>
<polyline points="362.5,322.4 383.32,321.92 404.14,321.13 424.96,320.02 445.78,321.29 466.6,319.55 487.42,318.91 508.24,318.44" fill="none" stroke="#000" stroke-width="2.0" stroke-linejoin="round"/>
<circle cx="383.32" cy="321.92" r="4.15" fill="#fff" stroke="#000" stroke-width="1.5"/>
<path d="M380.66 319.27L385.98 324.58M380.66 324.58L385.98 319.27" stroke="#000" stroke-width="1.4"/>
<circle cx="404.14" cy="321.13" r="4.15" fill="#fff" stroke="#000" stroke-width="1.5"/>
<path d="M401.48 318.48L406.8 323.79M401.48 323.79L406.8 318.48" stroke="#000" stroke-width="1.4"/>
<circle cx="424.96" cy="320.02" r="4.15" fill="#fff" stroke="#000" stroke-width="1.5"/>
<path d="M422.3 317.37L427.62 322.68M422.3 322.68L427.62 317.37" stroke="#000" stroke-width="1.4"/>
<circle cx="445.78" cy="321.29" r="4.15" fill="#fff" stroke="#000" stroke-width="1.5"/>
<path d="M443.12 318.63L448.44 323.95M443.12 323.95L448.44 318.63" stroke="#000" stroke-width="1.4"/>
<circle cx="466.6" cy="319.55" r="4.15" fill="#fff" stroke="#000" stroke-width="1.5"/>
<path d="M463.94 316.89L469.26 322.2M463.94 322.2L469.26 316.89" stroke="#000" stroke-width="1.4"/>
<circle cx="487.42" cy="318.91" r="4.15" fill="#fff" stroke="#000" stroke-width="1.5"/>
<path d="M484.76 316.26L490.08 321.57M484.76 321.57L490.08 316.26" stroke="#000" stroke-width="1.4"/>
<circle cx="508.24" cy="318.44" r="4.15" fill="#fff" stroke="#000" stroke-width="1.5"/>
<path d="M505.58 315.78L510.9 321.09M505.58 321.09L510.9 315.78" stroke="#000" stroke-width="1.4"/>
<polyline points="362.5,322.4 383.32,321.92 404.14,320.81 424.96,319.23 445.78,315.43 466.6,313.21 487.42,312.26 508.24,312.26" fill="none" stroke="#5a5a5a" stroke-width="2.0" stroke-linejoin="round"/>
<rect x="379.52" y="318.12" width="7.6" height="7.6" fill="#6c6c6c" stroke="#0a0a0a" stroke-width="1.9"/>
<rect x="400.34" y="317.01" width="7.6" height="7.6" fill="#6c6c6c" stroke="#0a0a0a" stroke-width="1.9"/>
<rect x="421.16" y="315.43" width="7.6" height="7.6" fill="#6c6c6c" stroke="#0a0a0a" stroke-width="1.9"/>
<rect x="441.98" y="311.63" width="7.6" height="7.6" fill="#6c6c6c" stroke="#0a0a0a" stroke-width="1.9"/>
<rect x="462.8" y="309.41" width="7.6" height="7.6" fill="#6c6c6c" stroke="#0a0a0a" stroke-width="1.9"/>
<rect x="483.62" y="308.46" width="7.6" height="7.6" fill="#6c6c6c" stroke="#0a0a0a" stroke-width="1.9"/>
<rect x="504.44" y="308.46" width="7.6" height="7.6" fill="#6c6c6c" stroke="#0a0a0a" stroke-width="1.9"/>
<path d="M445.78 306.55V312.89M441.18 306.55H450.38M441.18 312.89H450.38" stroke="#000" stroke-width="1.5" fill="none"/>
<path d="M466.6 298.78V308.29M462 298.78H471.2M462 308.29H471.2" stroke="#000" stroke-width="1.5" fill="none"/>
<path d="M487.42 294.98V301.32M482.82 294.98H492.02M482.82 301.32H492.02" stroke="#000" stroke-width="1.5" fill="none"/>
<path d="M508.24 288.64V301.64M503.64 288.64H512.84M503.64 301.64H512.84" stroke="#000" stroke-width="1.5" fill="none"/>
<polyline points="362.5,322.4 383.32,320.34 404.14,317.49 424.96,316.06 445.78,309.72 466.6,303.54 487.42,298.15 508.24,295.14" fill="none" stroke="#000" stroke-width="2.0" stroke-linejoin="round"/>
<rect x="357.85" y="317.75" width="9.3" height="9.3" fill="#000"/>
<rect x="378.67" y="315.69" width="9.3" height="9.3" fill="#000"/>
<rect x="399.49" y="312.84" width="9.3" height="9.3" fill="#000"/>
<rect x="420.31" y="311.41" width="9.3" height="9.3" fill="#000"/>
<rect x="441.13" y="305.07" width="9.3" height="9.3" fill="#000"/>
<rect x="461.95" y="298.89" width="9.3" height="9.3" fill="#000"/>
<rect x="482.77" y="293.5" width="9.3" height="9.3" fill="#000"/>
<rect x="503.59" y="290.49" width="9.3" height="9.3" fill="#000"/>
<path d="M378.22 309.07L378.81 310.61L380.45 310.7L379.17 311.73L379.6 313.32L378.22 312.42L376.84 313.32L377.27 311.73L375.99 310.7L377.63 310.61ZM383.32 309.07L383.91 310.61L385.55 310.7L384.27 311.73L384.7 313.32L383.32 312.42L381.94 313.32L382.37 311.73L381.09 310.7L382.73 310.61ZM388.42 309.07L389.01 310.61L390.65 310.7L389.37 311.73L389.8 313.32L388.42 312.42L387.04 313.32L387.47 311.73L386.19 310.7L387.83 310.61Z" fill="#000" stroke="#000" stroke-width="0.3" stroke-linejoin="round"/>
<path d="M399.04 306.27L399.63 307.81L401.27 307.9L399.99 308.93L400.42 310.52L399.04 309.62L397.66 310.52L398.09 308.93L396.81 307.9L398.45 307.81ZM404.14 306.27L404.73 307.81L406.37 307.9L405.09 308.93L405.52 310.52L404.14 309.62L402.76 310.52L403.19 308.93L401.91 307.9L403.55 307.81ZM409.24 306.27L409.83 307.81L411.47 307.9L410.19 308.93L410.62 310.52L409.24 309.62L407.86 310.52L408.29 308.93L407.01 307.9L408.65 307.81Z" fill="#000" stroke="#000" stroke-width="0.3" stroke-linejoin="round"/>
<path d="M419.86 304.47L420.45 306.01L422.09 306.1L420.81 307.13L421.24 308.72L419.86 307.82L418.48 308.72L418.91 307.13L417.63 306.1L419.27 306.01ZM424.96 304.47L425.55 306.01L427.19 306.1L425.91 307.13L426.34 308.72L424.96 307.82L423.58 308.72L424.01 307.13L422.73 306.1L424.37 306.01ZM430.06 304.47L430.65 306.01L432.29 306.1L431.01 307.13L431.44 308.72L430.06 307.82L428.68 308.72L429.11 307.13L427.83 306.1L429.47 306.01Z" fill="#000" stroke="#000" stroke-width="0.3" stroke-linejoin="round"/>
<path d="M440.68 298.77L441.27 300.31L442.91 300.4L441.63 301.43L442.06 303.02L440.68 302.12L439.3 303.02L439.73 301.43L438.45 300.4L440.09 300.31ZM445.78 298.77L446.37 300.31L448.01 300.4L446.73 301.43L447.16 303.02L445.78 302.12L444.4 303.02L444.83 301.43L443.55 300.4L445.19 300.31ZM450.88 298.77L451.47 300.31L453.11 300.4L451.83 301.43L452.26 303.02L450.88 302.12L449.5 303.02L449.93 301.43L448.65 300.4L450.29 300.31Z" fill="#000" stroke="#000" stroke-width="0.3" stroke-linejoin="round"/>
<path d="M461.5 293.27L462.09 294.81L463.73 294.9L462.45 295.93L462.88 297.52L461.5 296.62L460.12 297.52L460.55 295.93L459.27 294.9L460.91 294.81ZM466.6 293.27L467.19 294.81L468.83 294.9L467.55 295.93L467.98 297.52L466.6 296.62L465.22 297.52L465.65 295.93L464.37 294.9L466.01 294.81ZM471.7 293.27L472.29 294.81L473.93 294.9L472.65 295.93L473.08 297.52L471.7 296.62L470.32 297.52L470.75 295.93L469.47 294.9L471.11 294.81Z" fill="#000" stroke="#000" stroke-width="0.3" stroke-linejoin="round"/>
<path d="M482.32 288.07L482.91 289.61L484.55 289.7L483.27 290.73L483.7 292.32L482.32 291.42L480.94 292.32L481.37 290.73L480.09 289.7L481.73 289.61ZM487.42 288.07L488.01 289.61L489.65 289.7L488.37 290.73L488.8 292.32L487.42 291.42L486.04 292.32L486.47 290.73L485.19 289.7L486.83 289.61ZM492.52 288.07L493.11 289.61L494.75 289.7L493.47 290.73L493.9 292.32L492.52 291.42L491.14 292.32L491.57 290.73L490.29 289.7L491.93 289.61Z" fill="#000" stroke="#000" stroke-width="0.3" stroke-linejoin="round"/>
<path d="M503.14 282.87L503.73 284.41L505.37 284.5L504.09 285.53L504.52 287.12L503.14 286.22L501.76 287.12L502.19 285.53L500.91 284.5L502.55 284.41ZM508.24 282.87L508.83 284.41L510.47 284.5L509.19 285.53L509.62 287.12L508.24 286.22L506.86 287.12L507.29 285.53L506.01 284.5L507.65 284.41ZM513.34 282.87L513.93 284.41L515.57 284.5L514.29 285.53L514.72 287.12L513.34 286.22L511.96 287.12L512.39 285.53L511.11 284.5L512.75 284.41Z" fill="#000" stroke="#000" stroke-width="0.3" stroke-linejoin="round"/>
</g>
<g>
<path d="M51.2 419.4V533" stroke="#000" stroke-width="2.0"/>
<path d="M50.2 532H217.3" stroke="#000" stroke-width="2.0"/>
<path d="M46.3 532H51.2" stroke="#000" stroke-width="2.0"/>
<text x="46.1" y="536.1" font-size="12" font-weight="bold" text-anchor="end">0</text>
<path d="M46.3 504.1H51.2" stroke="#000" stroke-width="2.0"/>
<text x="46.1" y="508.2" font-size="12" font-weight="bold" text-anchor="end">20</text>
<path d="M46.3 476.2H51.2" stroke="#000" stroke-width="2.0"/>
<text x="46.1" y="480.3" font-size="12" font-weight="bold" text-anchor="end">40</text>
<path d="M46.3 448.3H51.2" stroke="#000" stroke-width="2.0"/>
<text x="46.1" y="452.4" font-size="12" font-weight="bold" text-anchor="end">60</text>
<path d="M46.3 420.4H51.2" stroke="#000" stroke-width="2.0"/>
<text x="46.1" y="424.5" font-size="12" font-weight="bold" text-anchor="end">80</text>
<path d="M65.4 532V536.6" stroke="#000" stroke-width="2.0"/>
<text transform="translate(67.7 544.5) rotate(-45)" font-size="12" font-weight="bold" text-anchor="end">0</text>
<path d="M93.1 532V536.6" stroke="#000" stroke-width="2.0"/>
<text transform="translate(95.4 544.5) rotate(-45)" font-size="12" font-weight="bold" text-anchor="end">5</text>
<path d="M120.8 532V536.6" stroke="#000" stroke-width="2.0"/>
<text transform="translate(123.1 544.5) rotate(-45)" font-size="12" font-weight="bold" text-anchor="end">25</text>
<path d="M148.5 532V536.6" stroke="#000" stroke-width="2.0"/>
<text transform="translate(150.8 544.5) rotate(-45)" font-size="12" font-weight="bold" text-anchor="end">125</text>
<path d="M176.2 532V536.6" stroke="#000" stroke-width="2.0"/>
<text transform="translate(178.5 544.5) rotate(-45)" font-size="12" font-weight="bold" text-anchor="end">625</text>
<path d="M203.9 532V536.6" stroke="#000" stroke-width="2.0"/>
<text transform="translate(206.2 544.5) rotate(-45)" font-size="12" font-weight="bold" text-anchor="end">3125</text>
<text transform="translate(24.2 474.1) rotate(-90)" font-size="13.5" font-weight="bold" text-anchor="middle">% LAMP1<tspan dy="-4.5" font-size="9.5">+</tspan><tspan dy="4.5"> cells</tspan></text>
<text x="134.65" y="575.3" font-size="13.5" font-weight="bold" text-anchor="middle">convulxin (ng/ml)</text>
</g>
<g>
<text x="1" y="415.3" font-size="17.2" font-weight="bold">E</text>
<path d="M120.8 519.03V529.91M116.2 519.03H125.4M116.2 529.91H125.4" stroke="#000" stroke-width="1.5" fill="none"/>
<path d="M148.5 484.71V508.15M143.9 484.71H153.1M143.9 508.15H153.1" stroke="#000" stroke-width="1.5" fill="none"/>
<path d="M176.2 456.11V471.46M171.6 456.11H180.8M171.6 471.46H180.8" stroke="#000" stroke-width="1.5" fill="none"/>
<path d="M203.9 442.58V460.99M199.3 442.58H208.5M199.3 460.99H208.5" stroke="#000" stroke-width="1.5" fill="none"/>
<polyline points="65.4,532 93.1,532 120.8,524.47 148.5,496.43 176.2,463.78 203.9,451.79" fill="none" stroke="#000" stroke-width="2.0" stroke-linejoin="round"/>
<circle cx="120.8" cy="524.47" r="4.25" fill="#fff" stroke="#000" stroke-width="1.9"/>
<circle cx="148.5" cy="496.43" r="4.25" fill="#fff" stroke="#000" stroke-width="1.9"/>
<circle cx="176.2" cy="463.78" r="4.25" fill="#fff" stroke="#000" stroke-width="1.9"/>
<circle cx="203.9" cy="451.79" r="4.25" fill="#fff" stroke="#000" stroke-width="1.9"/>
<polyline points="65.4,532 93.1,532 120.8,532 148.5,532 176.2,531.58 203.9,529.49" fill="none" stroke="#000" stroke-width="2.0" stroke-linejoin="round"/>
<circle cx="148.5" cy="532" r="4.15" fill="#fff" stroke="#000" stroke-width="1.5"/>
<path d="M145.84 529.34L151.16 534.66M145.84 534.66L151.16 529.34" stroke="#000" stroke-width="1.4"/>
<circle cx="176.2" cy="531.58" r="4.15" fill="#fff" stroke="#000" stroke-width="1.5"/>
<path d="M173.54 528.93L178.86 534.24M173.54 534.24L178.86 528.93" stroke="#000" stroke-width="1.4"/>
<circle cx="203.9" cy="529.49" r="4.15" fill="#fff" stroke="#000" stroke-width="1.5"/>
<path d="M201.24 526.83L206.56 532.14M201.24 532.14L206.56 526.83" stroke="#000" stroke-width="1.4"/>
<polyline points="65.4,532 93.1,532 120.8,532 148.5,532 176.2,531.3 203.9,529.35" fill="none" stroke="#2a2a2a" stroke-width="2.0" stroke-linejoin="round"/>
<rect x="144.7" y="528.2" width="7.6" height="7.6" fill="#6c6c6c" stroke="#0a0a0a" stroke-width="1.9"/>
<rect x="172.4" y="527.5" width="7.6" height="7.6" fill="#6c6c6c" stroke="#0a0a0a" stroke-width="1.9"/>
<rect x="200.1" y="525.55" width="7.6" height="7.6" fill="#6c6c6c" stroke="#0a0a0a" stroke-width="1.9"/>
<path d="M176.2 523.07V527.26M171.6 523.07H180.8M171.6 527.26H180.8" stroke="#000" stroke-width="1.5" fill="none"/>
<path d="M203.9 515.26V520.84M199.3 515.26H208.5M199.3 520.84H208.5" stroke="#000" stroke-width="1.5" fill="none"/>
<polyline points="65.4,532 93.1,532 120.8,532 148.5,531.3 176.2,525.16 203.9,518.05" fill="none" stroke="#000" stroke-width="2.0" stroke-linejoin="round"/>
<rect x="60.75" y="527.35" width="9.3" height="9.3" fill="#000"/>
<rect x="88.45" y="527.35" width="9.3" height="9.3" fill="#000"/>
<rect x="116.15" y="527.35" width="9.3" height="9.3" fill="#000"/>
<rect x="143.85" y="526.65" width="9.3" height="9.3" fill="#000"/>
<rect x="171.55" y="520.51" width="9.3" height="9.3" fill="#000"/>
<rect x="199.25" y="513.4" width="9.3" height="9.3" fill="#000"/>
<path d="M128.28 525.17L128.87 526.71L130.51 526.8L129.23 527.83L129.66 529.42L128.28 528.52L126.9 529.42L127.33 527.83L126.04 526.8L127.69 526.71Z" fill="#000" stroke="#000" stroke-width="0.3" stroke-linejoin="round"/>
<path d="M143.4 520.57L143.99 522.11L145.63 522.2L144.35 523.23L144.78 524.82L143.4 523.92L142.02 524.82L142.45 523.23L141.17 522.2L142.81 522.11ZM148.5 520.57L149.09 522.11L150.73 522.2L149.45 523.23L149.88 524.82L148.5 523.92L147.12 524.82L147.55 523.23L146.27 522.2L147.91 522.11ZM153.6 520.57L154.19 522.11L155.83 522.2L154.55 523.23L154.98 524.82L153.6 523.92L152.22 524.82L152.65 523.23L151.37 522.2L153.01 522.11Z" fill="#000" stroke="#000" stroke-width="0.3" stroke-linejoin="round"/>
<path d="M171.1 515.57L171.69 517.11L173.33 517.2L172.05 518.23L172.48 519.82L171.1 518.92L169.72 519.82L170.15 518.23L168.87 517.2L170.51 517.11ZM176.2 515.57L176.79 517.11L178.43 517.2L177.15 518.23L177.58 519.82L176.2 518.92L174.82 519.82L175.25 518.23L173.97 517.2L175.61 517.11ZM181.3 515.57L181.89 517.11L183.53 517.2L182.25 518.23L182.68 519.82L181.3 518.92L179.92 519.82L180.35 518.23L179.07 517.2L180.71 517.11Z" fill="#000" stroke="#000" stroke-width="0.3" stroke-linejoin="round"/>
<path d="M198.8 508.67L199.39 510.21L201.03 510.3L199.75 511.33L200.18 512.92L198.8 512.02L197.42 512.92L197.85 511.33L196.57 510.3L198.21 510.21ZM203.9 508.67L204.49 510.21L206.13 510.3L204.85 511.33L205.28 512.92L203.9 512.02L202.52 512.92L202.95 511.33L201.67 510.3L203.31 510.21ZM209 508.67L209.59 510.21L211.23 510.3L209.95 511.33L210.38 512.92L209 512.02L207.62 512.92L208.05 511.33L206.77 510.3L208.41 510.21Z" fill="#000" stroke="#000" stroke-width="0.3" stroke-linejoin="round"/>
</g>
<g>
<path d="M351.4 419.4V533" stroke="#000" stroke-width="2.0"/>
<path d="M350.4 532H519" stroke="#000" stroke-width="2.0"/>
<path d="M346.5 532H351.4" stroke="#000" stroke-width="2.0"/>
<text x="346.3" y="536.1" font-size="12" font-weight="bold" text-anchor="end">0</text>
<path d="M346.5 504.1H351.4" stroke="#000" stroke-width="2.0"/>
<text x="346.3" y="508.2" font-size="12" font-weight="bold" text-anchor="end">20</text>
<path d="M346.5 476.2H351.4" stroke="#000" stroke-width="2.0"/>
<text x="346.3" y="480.3" font-size="12" font-weight="bold" text-anchor="end">40</text>
<path d="M346.5 448.3H351.4" stroke="#000" stroke-width="2.0"/>
<text x="346.3" y="452.4" font-size="12" font-weight="bold" text-anchor="end">60</text>
<path d="M346.5 420.4H351.4" stroke="#000" stroke-width="2.0"/>
<text x="346.3" y="424.5" font-size="12" font-weight="bold" text-anchor="end">80</text>
<path d="M365.4 532V536.6" stroke="#000" stroke-width="2.0"/>
<text transform="translate(367.7 544.5) rotate(-45)" font-size="12" font-weight="bold" text-anchor="end">0</text>
<path d="M393.3 532V536.6" stroke="#000" stroke-width="2.0"/>
<text transform="translate(395.6 544.5) rotate(-45)" font-size="12" font-weight="bold" text-anchor="end">5</text>
<path d="M421.2 532V536.6" stroke="#000" stroke-width="2.0"/>
<text transform="translate(423.5 544.5) rotate(-45)" font-size="12" font-weight="bold" text-anchor="end">25</text>
<path d="M449.1 532V536.6" stroke="#000" stroke-width="2.0"/>
<text transform="translate(451.4 544.5) rotate(-45)" font-size="12" font-weight="bold" text-anchor="end">125</text>
<path d="M477 532V536.6" stroke="#000" stroke-width="2.0"/>
<text transform="translate(479.3 544.5) rotate(-45)" font-size="12" font-weight="bold" text-anchor="end">625</text>
<path d="M504.9 532V536.6" stroke="#000" stroke-width="2.0"/>
<text transform="translate(507.2 544.5) rotate(-45)" font-size="12" font-weight="bold" text-anchor="end">3125</text>
<text transform="translate(326.7 474.1) rotate(-90)" font-size="13.5" font-weight="bold" text-anchor="middle">% LAMP1<tspan dy="-4.5" font-size="9.5">+</tspan><tspan dy="4.5"> cells</tspan></text>
<text x="435.15" y="575.3" font-size="13.5" font-weight="bold" text-anchor="middle">convulxin (ng/ml)</text>
<text x="435.15" y="590.9" font-size="13.5" font-weight="bold" text-anchor="middle">+ 10 <tspan font-family="Liberation Serif" font-weight="normal" font-size="14.5">μ</tspan>M ADP</text>
</g>
<g>
<text x="302.5" y="415.3" font-size="17.2" font-weight="bold">F</text>
<path d="M421.2 501.17V512.05M416.6 501.17H425.8M416.6 512.05H425.8" stroke="#000" stroke-width="1.5" fill="none"/>
<path d="M449.1 475.36V491.82M444.5 475.36H453.7M444.5 491.82H453.7" stroke="#000" stroke-width="1.5" fill="none"/>
<path d="M477 447.18V465.32M472.4 447.18H481.6M472.4 465.32H481.6" stroke="#000" stroke-width="1.5" fill="none"/>
<path d="M504.9 440.77V455M500.3 440.77H509.5M500.3 455H509.5" stroke="#000" stroke-width="1.5" fill="none"/>
<polyline points="365.4,532 393.3,529.77 421.2,506.61 449.1,483.59 477,456.25 504.9,447.88" fill="none" stroke="#000" stroke-width="2.0" stroke-linejoin="round"/>
<circle cx="393.3" cy="529.77" r="4.25" fill="#fff" stroke="#000" stroke-width="1.9"/>
<circle cx="421.2" cy="506.61" r="4.25" fill="#fff" stroke="#000" stroke-width="1.9"/>
<circle cx="449.1" cy="483.59" r="4.25" fill="#fff" stroke="#000" stroke-width="1.9"/>
<circle cx="477" cy="456.25" r="4.25" fill="#fff" stroke="#000" stroke-width="1.9"/>
<circle cx="504.9" cy="447.88" r="4.25" fill="#fff" stroke="#000" stroke-width="1.9"/>
<polyline points="365.4,532 393.3,532 421.2,530.88 449.1,530.05 477,530.61 504.9,530.19" fill="none" stroke="#000" stroke-width="2.0" stroke-linejoin="round"/>
<circle cx="393.3" cy="532" r="4.15" fill="#fff" stroke="#000" stroke-width="1.5"/>
<path d="M390.64 529.34L395.96 534.66M390.64 534.66L395.96 529.34" stroke="#000" stroke-width="1.4"/>
<circle cx="421.2" cy="530.88" r="4.15" fill="#fff" stroke="#000" stroke-width="1.5"/>
<path d="M418.54 528.23L423.86 533.54M418.54 533.54L423.86 528.23" stroke="#000" stroke-width="1.4"/>
<circle cx="449.1" cy="530.05" r="4.15" fill="#fff" stroke="#000" stroke-width="1.5"/>
<path d="M446.44 527.39L451.76 532.7M446.44 532.7L451.76 527.39" stroke="#000" stroke-width="1.4"/>
<circle cx="477" cy="530.61" r="4.15" fill="#fff" stroke="#000" stroke-width="1.5"/>
<path d="M474.34 527.95L479.66 533.26M474.34 533.26L479.66 527.95" stroke="#000" stroke-width="1.4"/>
<circle cx="504.9" cy="530.19" r="4.15" fill="#fff" stroke="#000" stroke-width="1.5"/>
<path d="M502.24 527.53L507.56 532.84M502.24 532.84L507.56 527.53" stroke="#000" stroke-width="1.4"/>
<path d="M477 523.77V529.35M472.4 523.77H481.6M472.4 529.35H481.6" stroke="#2a2a2a" stroke-width="1.5" fill="none"/>
<path d="M504.9 522.65V528.23M500.3 522.65H509.5M500.3 528.23H509.5" stroke="#2a2a2a" stroke-width="1.5" fill="none"/>
<polyline points="365.4,532 393.3,532 421.2,530.61 449.1,529.49 477,526.56 504.9,525.44" fill="none" stroke="#2a2a2a" stroke-width="2.0" stroke-linejoin="round"/>
<rect x="389.5" y="528.2" width="7.6" height="7.6" fill="#6c6c6c" stroke="#0a0a0a" stroke-width="1.9"/>
<rect x="417.4" y="526.81" width="7.6" height="7.6" fill="#6c6c6c" stroke="#0a0a0a" stroke-width="1.9"/>
<rect x="445.3" y="525.69" width="7.6" height="7.6" fill="#6c6c6c" stroke="#0a0a0a" stroke-width="1.9"/>
<rect x="473.2" y="522.76" width="7.6" height="7.6" fill="#6c6c6c" stroke="#0a0a0a" stroke-width="1.9"/>
<rect x="501.1" y="521.64" width="7.6" height="7.6" fill="#6c6c6c" stroke="#0a0a0a" stroke-width="1.9"/>
<path d="M449.1 509.68V518.05M444.5 509.68H453.7M444.5 518.05H453.7" stroke="#000" stroke-width="1.5" fill="none"/>
<path d="M477 496.29V510.8M472.4 496.29H481.6M472.4 510.8H481.6" stroke="#000" stroke-width="1.5" fill="none"/>
<path d="M504.9 489.03V503.54M500.3 489.03H509.5M500.3 503.54H509.5" stroke="#000" stroke-width="1.5" fill="none"/>
<polyline points="365.4,532 393.3,531.3 421.2,526.28 449.1,513.87 477,503.54 504.9,496.29" fill="none" stroke="#000" stroke-width="2.0" stroke-linejoin="round"/>
<rect x="360.75" y="527.35" width="9.3" height="9.3" fill="#000"/>
<rect x="388.65" y="526.65" width="9.3" height="9.3" fill="#000"/>
<rect x="416.55" y="521.63" width="9.3" height="9.3" fill="#000"/>
<rect x="444.45" y="509.22" width="9.3" height="9.3" fill="#000"/>
<rect x="472.35" y="498.89" width="9.3" height="9.3" fill="#000"/>
<rect x="500.25" y="491.64" width="9.3" height="9.3" fill="#000"/>
<path d="M388.2 521.07L388.79 522.61L390.43 522.7L389.15 523.73L389.58 525.32L388.2 524.42L386.82 525.32L387.25 523.73L385.97 522.7L387.61 522.61ZM393.3 521.07L393.89 522.61L395.53 522.7L394.25 523.73L394.68 525.32L393.3 524.42L391.92 525.32L392.35 523.73L391.07 522.7L392.71 522.61ZM398.4 521.07L398.99 522.61L400.63 522.7L399.35 523.73L399.78 525.32L398.4 524.42L397.02 525.32L397.45 523.73L396.17 522.7L397.81 522.61Z" fill="#000" stroke="#000" stroke-width="0.3" stroke-linejoin="round"/>
<path d="M416.1 516.37L416.69 517.91L418.33 518L417.05 519.03L417.48 520.62L416.1 519.72L414.72 520.62L415.15 519.03L413.87 518L415.51 517.91ZM421.2 516.37L421.79 517.91L423.43 518L422.15 519.03L422.58 520.62L421.2 519.72L419.82 520.62L420.25 519.03L418.97 518L420.61 517.91ZM426.3 516.37L426.89 517.91L428.53 518L427.25 519.03L427.68 520.62L426.3 519.72L424.92 520.62L425.35 519.03L424.07 518L425.71 517.91Z" fill="#000" stroke="#000" stroke-width="0.3" stroke-linejoin="round"/>
<path d="M444 503.17L444.59 504.71L446.23 504.8L444.95 505.83L445.38 507.42L444 506.52L442.62 507.42L443.05 505.83L441.77 504.8L443.41 504.71ZM449.1 503.17L449.69 504.71L451.33 504.8L450.05 505.83L450.48 507.42L449.1 506.52L447.72 507.42L448.15 505.83L446.87 504.8L448.51 504.71ZM454.2 503.17L454.79 504.71L456.43 504.8L455.15 505.83L455.58 507.42L454.2 506.52L452.82 507.42L453.25 505.83L451.97 504.8L453.61 504.71Z" fill="#000" stroke="#000" stroke-width="0.3" stroke-linejoin="round"/>
<path d="M471.9 490.47L472.49 492.01L474.13 492.1L472.85 493.13L473.28 494.72L471.9 493.82L470.52 494.72L470.95 493.13L469.67 492.1L471.31 492.01ZM477 490.47L477.59 492.01L479.23 492.1L477.95 493.13L478.38 494.72L477 493.82L475.62 494.72L476.05 493.13L474.77 492.1L476.41 492.01ZM482.1 490.47L482.69 492.01L484.33 492.1L483.05 493.13L483.48 494.72L482.1 493.82L480.72 494.72L481.15 493.13L479.87 492.1L481.51 492.01Z" fill="#000" stroke="#000" stroke-width="0.3" stroke-linejoin="round"/>
<path d="M499.8 483.17L500.39 484.71L502.03 484.8L500.75 485.83L501.18 487.42L499.8 486.52L498.42 487.42L498.85 485.83L497.57 484.8L499.21 484.71ZM504.9 483.17L505.49 484.71L507.13 484.8L505.85 485.83L506.28 487.42L504.9 486.52L503.52 487.42L503.95 485.83L502.67 484.8L504.31 484.71ZM510 483.17L510.59 484.71L512.23 484.8L510.95 485.83L511.38 487.42L510 486.52L508.62 487.42L509.05 485.83L507.77 484.8L509.41 484.71Z" fill="#000" stroke="#000" stroke-width="0.3" stroke-linejoin="round"/>
<path d="M401.91 524.87L402.5 526.41L404.14 526.5L402.86 527.53L403.29 529.12L401.91 528.22L400.53 529.12L400.96 527.53L399.68 526.5L401.32 526.41ZM407.01 524.87L407.6 526.41L409.24 526.5L407.96 527.53L408.39 529.12L407.01 528.22L405.63 529.12L406.06 527.53L404.78 526.5L406.42 526.41Z" fill="#000" stroke="#000" stroke-width="0.3" stroke-linejoin="round"/>
<path d="M444 520.67L444.59 522.21L446.23 522.3L444.95 523.33L445.38 524.92L444 524.02L442.62 524.92L443.05 523.33L441.77 522.3L443.41 522.21ZM449.1 520.67L449.69 522.21L451.33 522.3L450.05 523.33L450.48 524.92L449.1 524.02L447.72 524.92L448.15 523.33L446.87 522.3L448.51 522.21ZM454.2 520.67L454.79 522.21L456.43 522.3L455.15 523.33L455.58 524.92L454.2 524.02L452.82 524.92L453.25 523.33L451.97 522.3L453.61 522.21Z" fill="#000" stroke="#000" stroke-width="0.3" stroke-linejoin="round"/>
<path d="M471.9 516.87L472.49 518.41L474.13 518.5L472.85 519.53L473.28 521.12L471.9 520.22L470.52 521.12L470.95 519.53L469.67 518.5L471.31 518.41ZM477 516.87L477.59 518.41L479.23 518.5L477.95 519.53L478.38 521.12L477 520.22L475.62 521.12L476.05 519.53L474.77 518.5L476.41 518.41ZM482.1 516.87L482.69 518.41L484.33 518.5L483.05 519.53L483.48 521.12L482.1 520.22L480.72 521.12L481.15 519.53L479.87 518.5L481.51 518.41Z" fill="#000" stroke="#000" stroke-width="0.3" stroke-linejoin="round"/>
<path d="M499.8 514.37L500.39 515.91L502.03 516L500.75 517.03L501.18 518.62L499.8 517.72L498.42 518.62L498.85 517.03L497.57 516L499.21 515.91ZM504.9 514.37L505.49 515.91L507.13 516L505.85 517.03L506.28 518.62L504.9 517.72L503.52 518.62L503.95 517.03L502.67 516L504.31 515.91ZM510 514.37L510.59 515.91L512.23 516L510.95 517.03L511.38 518.62L510 517.72L508.62 518.62L509.05 517.03L507.77 516L509.41 515.91Z" fill="#000" stroke="#000" stroke-width="0.3" stroke-linejoin="round"/>
</g>
<rect x="212.3" y="154" width="70.7" height="59" fill="#fff" stroke="#444" stroke-width="1.1"/>
<path d="M214.9 164.3H227.70000000000002" stroke="#000" stroke-width="1.9"/>
<circle cx="221.3" cy="164.3" r="4.3" fill="#fff" stroke="#000" stroke-width="1.8"/>
<text x="234.5" y="168.2" font-size="11.6" font-weight="bold">WT</text>
<path d="M214.9 177.6H227.70000000000002" stroke="#000" stroke-width="1.9"/>
<circle cx="221.3" cy="177.6" r="4.1" fill="#fff" stroke="#000" stroke-width="1.4"/>
<path d="M218.76 175.06L223.84 180.14M218.76 180.14L223.84 175.06" stroke="#000" stroke-width="1.3"/>
<text x="234.5" y="181.5" font-size="11.6" font-weight="bold" font-style="italic">pallid</text>
<path d="M214.9 190.9H227.70000000000002" stroke="#000" stroke-width="1.9"/>
<rect x="217.4" y="187" width="7.8" height="7.8" fill="#6c6c6c" stroke="#0a0a0a" stroke-width="1.7"/>
<text x="234.5" y="194.8" font-size="11.6" font-weight="bold" font-style="italic">pearl</text>
<path d="M214.9 204.2H227.70000000000002" stroke="#000" stroke-width="1.9"/>
<rect x="217.1" y="200" width="8.4" height="8.4" fill="#000"/>
<text x="234.5" y="208.1" font-size="11.6" font-weight="bold" font-style="italic">light ear</text>
</svg>
</body>
</html>
